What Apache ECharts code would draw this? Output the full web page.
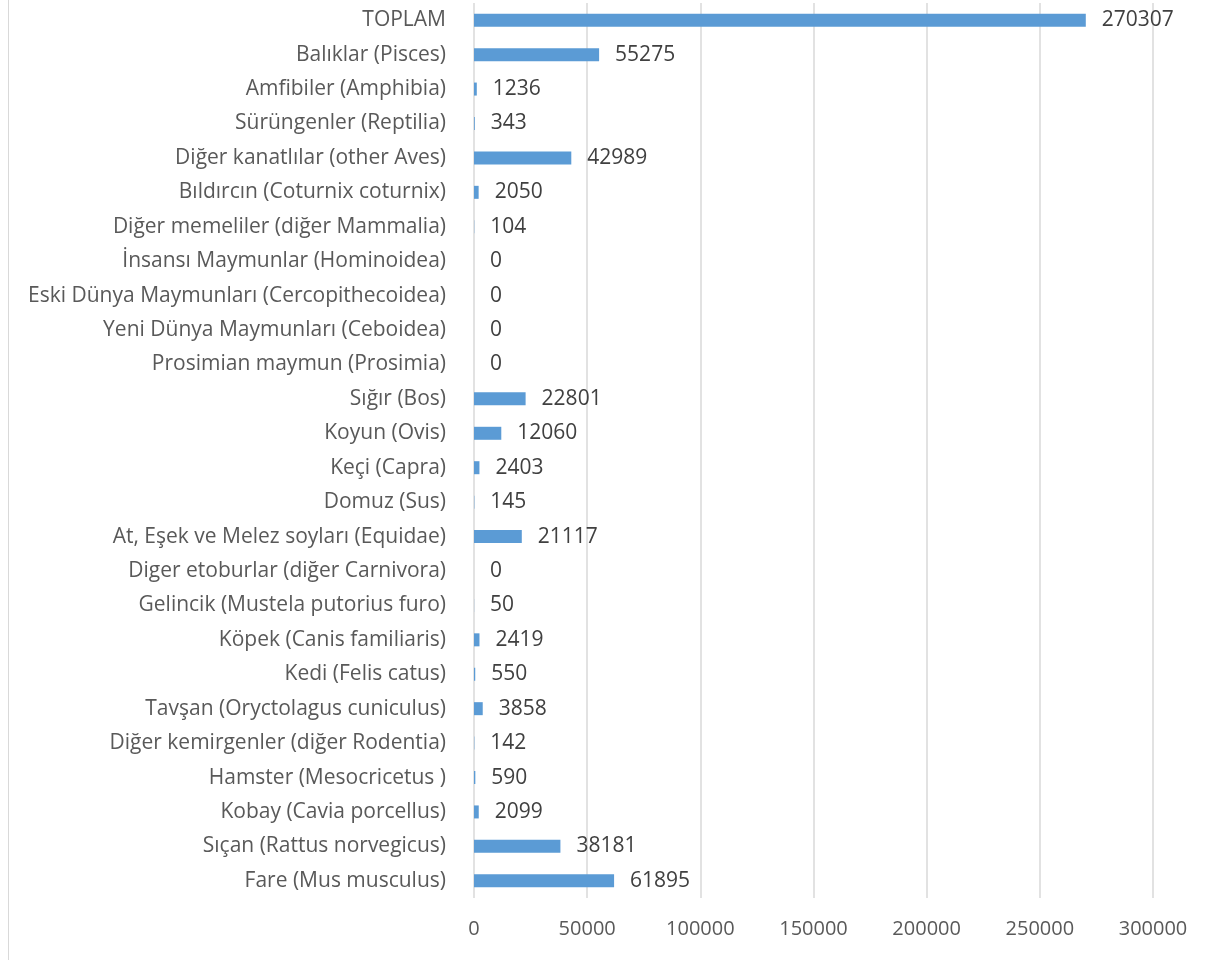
<!DOCTYPE html>
<html>
<head>
<meta charset="utf-8">
<script src="https://cdn.jsdelivr.net/npm/echarts@6/dist/echarts.min.js"></script>
<style>
  html, body { margin: 0; padding: 0; background: #fff; }
  #chart { width: 1215px; height: 960px; }
</style>
</head>
<body>
<div id="chart"></div>
<script>
// bottom -> top, as the category axis draws them
const categories = [
  'Fare (Mus musculus)',
  'Sıçan (Rattus norvegicus)',
  'Kobay (Cavia porcellus)',
  'Hamster (Mesocricetus )',
  'Diğer kemirgenler (diğer Rodentia)',
  'Tavşan (Oryctolagus cuniculus)',
  'Kedi (Felis catus)',
  'Köpek (Canis familiaris)',
  'Gelincik (Mustela putorius furo)',
  'Diger etoburlar (diğer Carnivora)',
  'At, Eşek ve Melez soyları (Equidae)',
  'Domuz (Sus)',
  'Keçi (Capra)',
  'Koyun (Ovis)',
  'Sığır (Bos)',
  'Prosimian maymun (Prosimia)',
  'Yeni Dünya Maymunları (Ceboidea)',
  'Eski Dünya Maymunları (Cercopithecoidea)',
  'İnsansı Maymunlar (Hominoidea)',
  'Diğer memeliler (diğer Mammalia)',
  'Bıldırcın (Coturnix coturnix)',
  'Diğer kanatlılar (other Aves)',
  'Sürüngenler (Reptilia)',
  'Amfibiler (Amphibia)',
  'Balıklar (Pisces)',
  'TOPLAM'
];
const counts = [
  61895, 38181, 2099, 590, 142, 3858, 550, 2419, 50, 0,
  21117, 145, 2403, 12060, 22801, 0, 0, 0, 0, 104,
  2050, 42989, 343, 1236, 55275, 270307
];
const xTicks = [0, 50000, 100000, 150000, 200000, 250000, 300000];

const textColor = '#595959';
const gridColor = '#d9d9d9';
const font = '"Open Sans", sans-serif';

const chart = echarts.init(document.getElementById('chart'));

chart.setOption({
  animation: false,
  textStyle: { fontFamily: font },
  graphic: [{
    type: 'rect',
    shape: { x: 8, y: 0, width: 1, height: 960 },
    style: { fill: gridColor },
    silent: true
  }],
  grid: { left: 474, right: 62, top: 3, bottom: 62 },
  xAxis: {
    type: 'value',
    min: xTicks[0],
    max: xTicks[xTicks.length - 1],
    interval: xTicks[1] - xTicks[0],
    axisLine: { show: false },
    axisTick: { show: false },
    axisLabel: {
      color: textColor, fontSize: 20, margin: 21, fontFamily: font,
      formatter: v => String(v)
    },
    splitLine: { show: true, lineStyle: { color: gridColor, width: 1.5 } }
  },
  yAxis: {
    type: 'category',
    data: categories,
    axisLine: { show: false },
    axisTick: { show: false },
    axisLabel: { color: textColor, fontSize: 21, margin: 28, fontFamily: font, interval: 0 }
  },
  series: [{
    type: 'bar',
    data: counts,
    barWidth: 13,
    itemStyle: { color: '#5b9bd5' },
    label: {
      show: true,
      position: 'right',
      distance: 16,
      color: '#404040',
      fontSize: 21,
      fontFamily: font
    }
  }]
});
</script>
</body>
</html>
